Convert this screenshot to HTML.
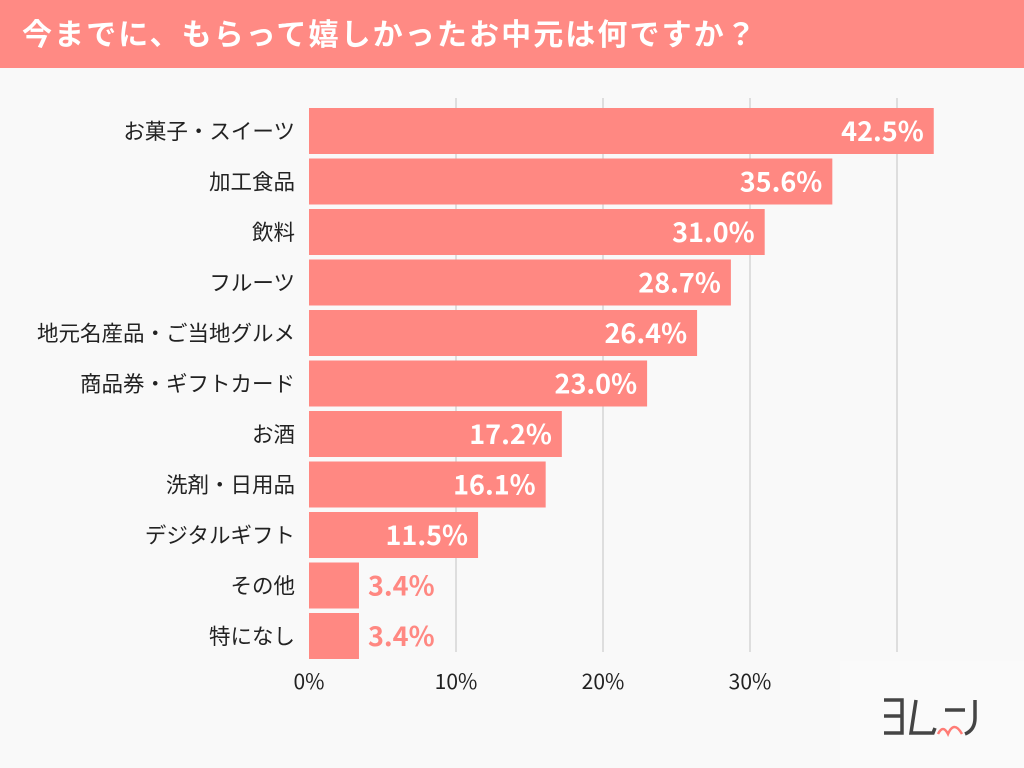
<!DOCTYPE html>
<html><head><meta charset="utf-8"><style>
body{margin:0;width:1024px;height:768px;overflow:hidden;background:#f9f9f9;font-family:"Noto Sans CJK JP","Liberation Sans",sans-serif;}
#hdr{position:absolute;left:0;top:0;width:1024px;height:68px;background:#ff8a84;color:#fff;font-size:30px;font-weight:bold;line-height:64px;padding-left:22px;box-sizing:border-box;letter-spacing:2.1px;white-space:nowrap}
svg{position:absolute;left:0;top:0}
</style></head><body>
<div id="hdr">今までに、もらって嬉しかったお中元は何ですか？</div>
<svg id="c" width="1024" height="768"></svg>
<script>
const categories=["お菓子・スイーツ","加工食品","飲料","フルーツ","地元名産品・ご当地グルメ","商品券・ギフトカード","お酒","洗剤・日用品","デジタルギフト","その他","特になし"];
const values=[42.5,35.6,31.0,28.7,26.4,23.0,17.2,16.1,11.5,3.4,3.4];
const ticks=[0,10,20,30,40,50];
const tickLabels=["0%","10%","20%","30%","40%","50%"];
const NS="http://www.w3.org/2000/svg";
const svg=document.getElementById('c');
const x=v=>309+v*14.7;
const y=i=>108+i*50.5;
const bh=46;
function mk(t,a,p){const e=document.createElementNS(NS,t);for(const k in a)e.setAttribute(k,a[k]);(p||svg).appendChild(e);return e;}
ticks.forEach((t,i)=>{
 if(t>0){const g=mk('line',{x1:x(t),x2:x(t),y1:98,y2:652,stroke:'#d6d6d6','stroke-width':1.5});
 
 }
 const l=mk('text',{x:x(t),y:689,'text-anchor':'middle','font-size':21,fill:'#222'});
 l.textContent=tickLabels[i];
 
 
});
categories.forEach((c,i)=>{
 const r=mk('rect',{x:x(0),y:y(i),width:x(values[i])-x(0),height:bh,fill:'#ff8882'});
 
 
 const cl=mk('text',{x:295,y:y(i)+bh/2+8,'text-anchor':'end','font-size':21.5,fill:'#222'});
 cl.textContent=c;
 
 
 const inside=values[i]>5;
 const vl=mk('text',{x:inside?x(values[i])-10:x(values[i])+9,y:y(i)+bh/2+10,'text-anchor':inside?'end':'start','font-size':27,'font-weight':'bold',fill:inside?'#fff':'#ff8882'});
 vl.textContent=values[i].toFixed(1)+'%';
 
 
});
</script>
<div style="position:absolute;left:840px;top:661px;width:184px;height:107px;background:#fafafa"></div>
<svg width="1024" height="768" style="pointer-events:none">
<g fill="none" stroke="#444" stroke-width="3.5">
<path d="M884 700h18v33h-18M884 716h18"/>
<path d="M916 700l-5 33h22l2-5"/>
<path d="M945 710h20M975 700v18q0 12-10 16"/>
</g>
<path d="M938 734q5-10 10 0q6-14 14 0" fill="none" stroke="#ff7b75" stroke-width="2.5"/>
</svg>
</body></html>
